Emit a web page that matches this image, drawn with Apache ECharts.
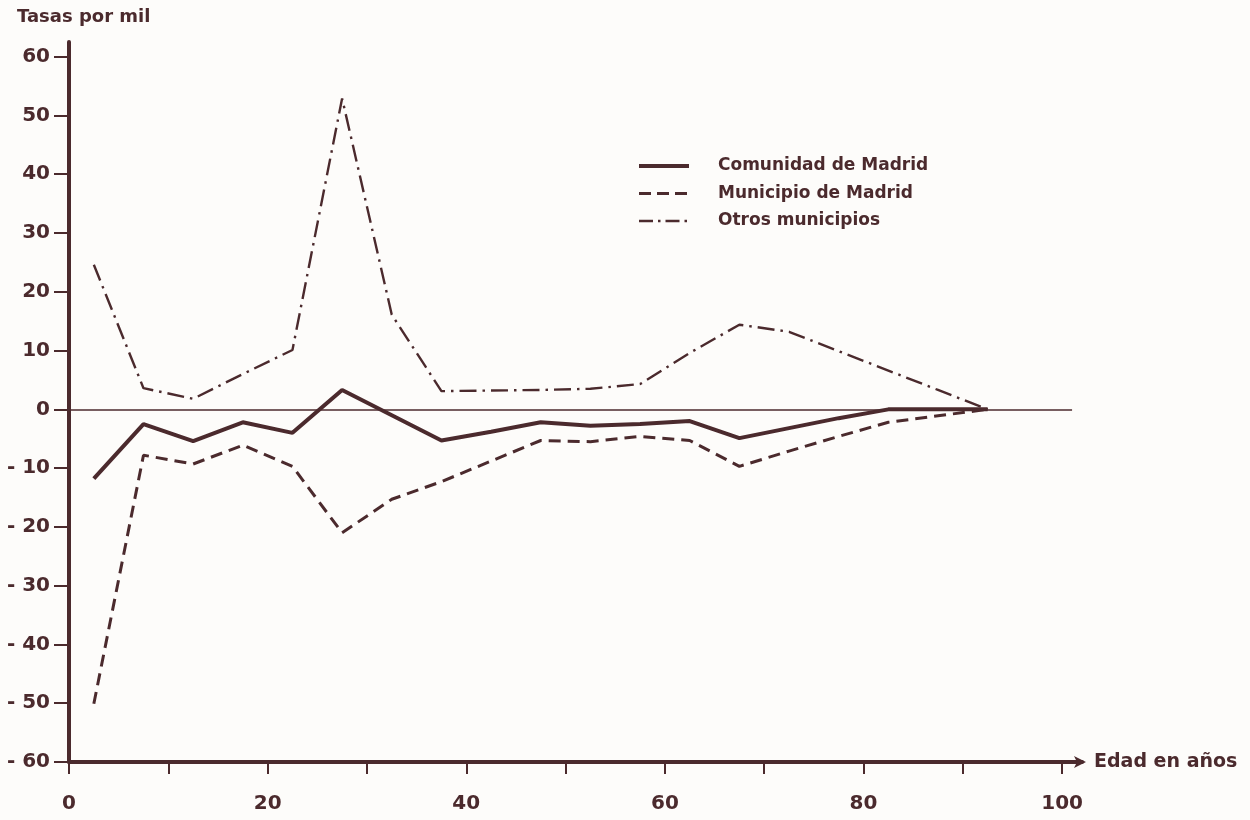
<!DOCTYPE html>
<html>
<head>
<meta charset="utf-8">
<script src="https://cdn.jsdelivr.net/npm/echarts@6/dist/echarts.min.js"></script>
<style>
html,body{margin:0;padding:0;background:#fdfcfa;}
#chart{width:1250px;height:820px;}
</style>
</head>
<body>
<div id="chart"></div>
<script>
// Edad (marcas de clase de grupos quinquenales)
const ages = [2.5, 7.5, 12.5, 17.5, 22.5, 27.5, 32.5, 37.5, 42.5, 47.5, 52.5, 57.5, 62.5, 67.5, 72.5, 77.5, 82.5, 87.5, 92.5];
const comunidad = [-11.8, -2.5, -5.4, -2.2, -4.0, 3.3, -1.0, -5.3, -3.8, -2.2, -2.8, -2.5, -2.0, -4.9, -3.2, -1.5, 0, 0, 0];
const municipio = [-50.1, -7.8, -9.3, -6.1, -9.7, -21.0, -15.3, -12.3, -8.8, -5.3, -5.5, -4.6, -5.3, -9.7, -7.1, -4.6, -2.2, -1.1, 0];
const otros = [24.6, 3.6, 1.8, 6.0, 10.1, 52.9, 16.1, 3.1, 3.2, 3.3, 3.5, 4.3, 9.6, 14.4, 13.2, 9.9, 6.6, 3.3, 0];
const seriesNames = ['Comunidad de Madrid', 'Municipio de Madrid', 'Otros municipios'];
const xTicks = [0, 10, 20, 30, 40, 50, 60, 70, 80, 90, 100];
const xLabels = [0, 20, 40, 60, 80, 100];
const yTicks = [-60, -50, -40, -30, -20, -10, 0, 10, 20, 30, 40, 50, 60];

const INK = '#4b2a2d';
const FONT = 'DejaVu Sans';
const pairs = arr => ages.map((a, i) => [a, arr[i]]);
const styles = [
  {color: INK, width: 4, type: 'solid'},
  {color: INK, width: 3, type: [12, 7]},
  {color: INK, width: 2.4, type: [17, 6, 2.5, 6]}
];
const legendStyles = [
  {color: INK, width: 4, type: 'solid'},
  {color: INK, width: 3, type: [12, 6]},
  {color: INK, width: 2.4, type: [14, 5, 2.5, 5]}
];

const chart = echarts.init(document.getElementById('chart'), null, {renderer: 'canvas'});
chart.setOption({
  backgroundColor: '#fdfcfa',
  animation: false,
  grid: {left: 69, right: 168, top: 42, bottom: 58, containLabel: false},
  graphic: [{
    type: 'text', left: 17, top: 8,
    style: {text: 'Tasas por mil', fill: INK, font: 'bold 18px "' + FONT + '"'}
  }],
  legend: {
    orient: 'vertical', left: 632, top: 151,
    itemWidth: 50, itemHeight: 14, itemGap: 7.5,
    itemStyle: {opacity: 0},
    data: seriesNames.map((n, i) => ({name: n, lineStyle: legendStyles[i]})),
    textStyle: {color: INK, fontFamily: FONT, fontWeight: 'bold', fontSize: 17, lineHeight: 20, padding: [0, 0, 0, 24]}
  },
  xAxis: {
    type: 'value', min: 0, max: 102,
    name: 'Edad en años', nameLocation: 'end', nameGap: 12,
    nameTextStyle: {color: INK, fontFamily: FONT, fontWeight: 'bold', fontSize: 19, verticalAlign: 'middle'},
    axisLine: {show: true, onZero: false, symbol: ['none', 'arrow'], symbolSize: [9, 12], symbolOffset: [0, 4],
      lineStyle: {color: INK, width: 4}},
    axisTick: {show: true, customValues: xTicks, length: 12, lineStyle: {color: INK, width: 2}},
    axisLabel: {customValues: xLabels, margin: 32, color: INK, fontFamily: FONT, fontWeight: 'bold', fontSize: 20},
    splitLine: {show: false}
  },
  yAxis: {
    type: 'value', min: -60, max: 62.5,
    axisLine: {show: true, onZero: false, lineStyle: {color: INK, width: 4}},
    axisTick: {show: true, customValues: yTicks, length: 15, lineStyle: {color: INK, width: 2}},
    axisLabel: {customValues: yTicks, margin: 19, color: INK, fontFamily: FONT, fontWeight: 'bold', fontSize: 20,
      formatter: v => v < 0 ? '- ' + Math.abs(v) : String(v)},
    splitLine: {show: false}
  },
  series: [
    {
      name: seriesNames[0], type: 'line', data: pairs(comunidad), symbol: 'none', z: 5,
      lineStyle: styles[0], itemStyle: {color: INK},
      markLine: {
        silent: true, symbol: 'none', label: {show: false},
        lineStyle: {color: INK, width: 1.5, type: 'solid'},
        data: [[{coord: [0, 0]}, {coord: [101, 0]}]]
      }
    },
    {
      name: seriesNames[1], type: 'line', data: pairs(municipio), symbol: 'none', z: 4,
      lineStyle: styles[1], itemStyle: {color: INK}
    },
    {
      name: seriesNames[2], type: 'line', data: pairs(otros), symbol: 'none', z: 3,
      lineStyle: styles[2], itemStyle: {color: INK}
    }
  ]
});
</script>
</body>
</html>
